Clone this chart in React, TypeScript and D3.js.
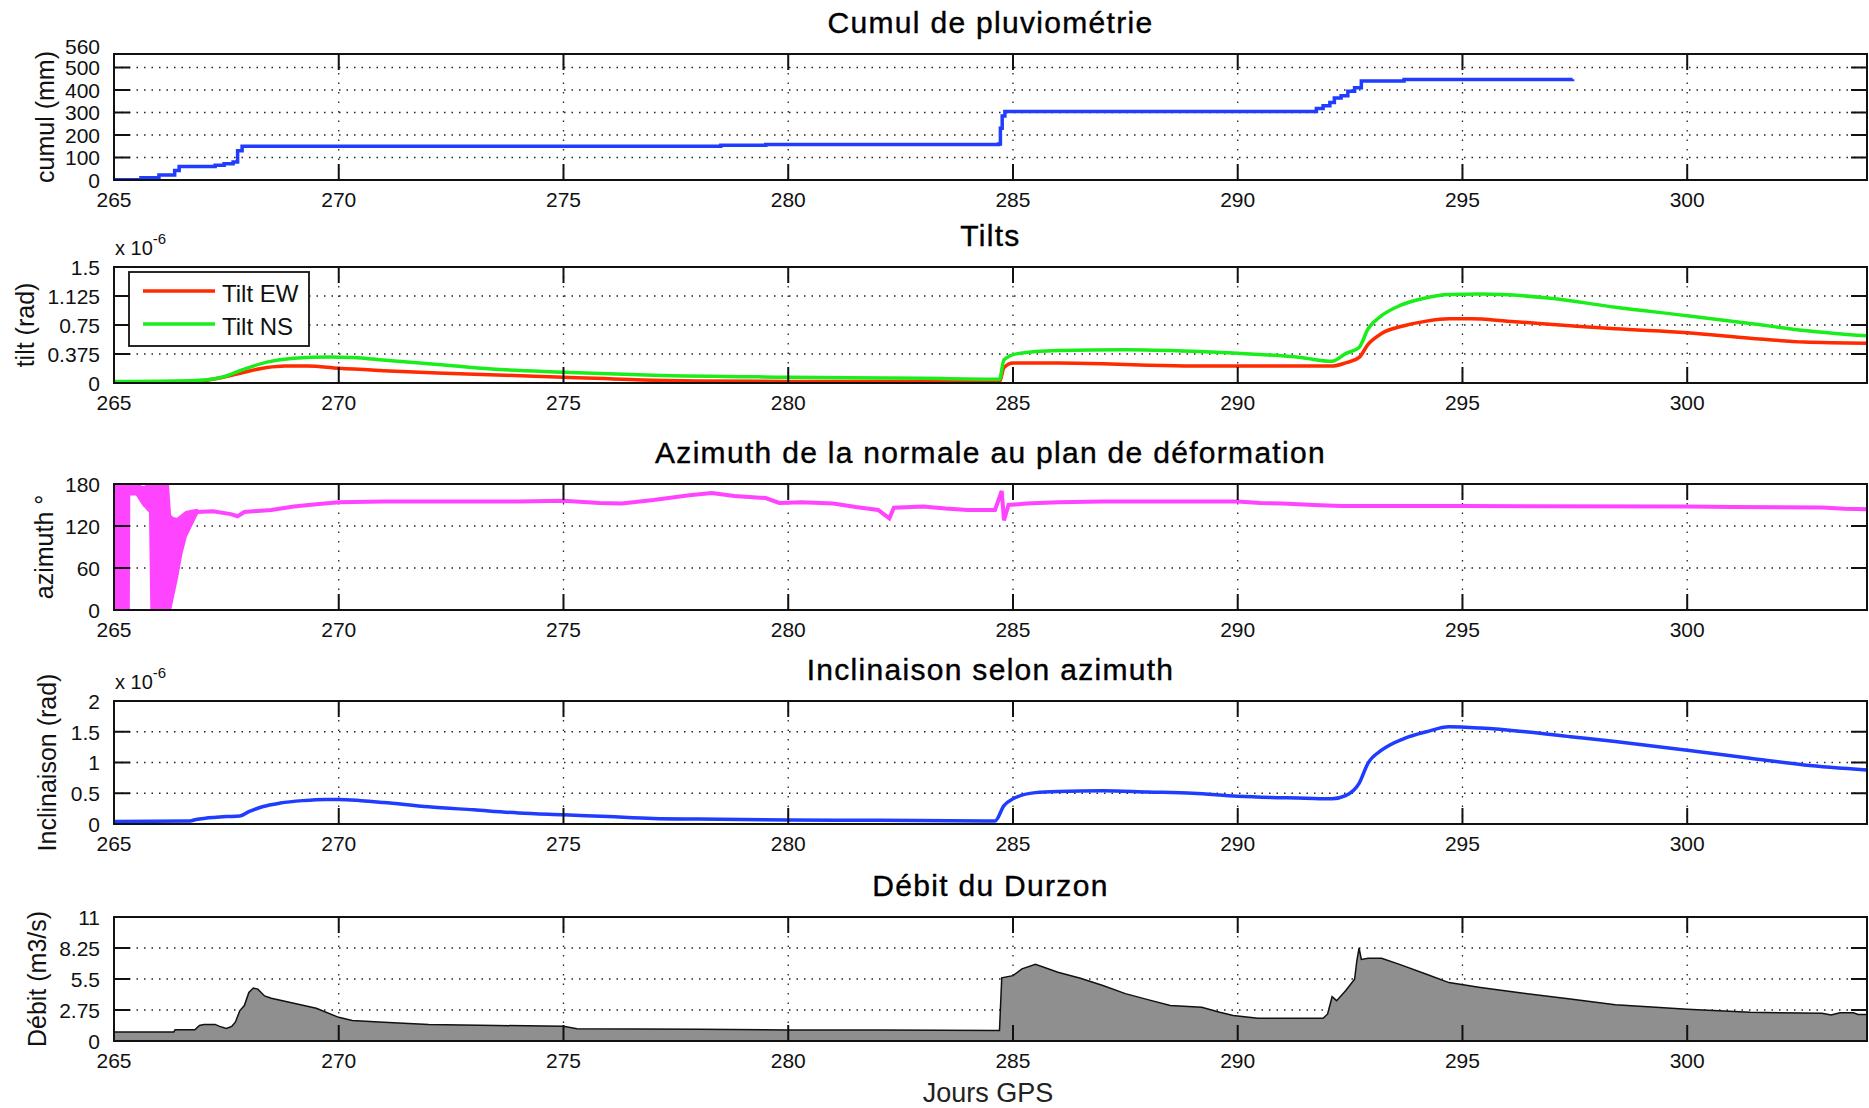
import React, { useEffect, useRef } from 'react';
import * as d3 from 'd3';

type Pt = [number, number];

// jours GPS communs à tous les panneaux
const xTicks = [265, 270, 275, 280, 285, 290, 295, 300];

// cumul de pluviométrie (mm)
const cumul: Pt[] = [
  [265, 1], [265.6, 10], [266.0, 22], [266.35, 42], [266.45, 60], [267.25, 66], [267.45, 72],
  [267.65, 80], [267.75, 130], [267.85, 150], [278.5, 155], [279.5, 158], [284.68, 160],
  [284.72, 230], [284.76, 285], [284.82, 305], [291.6, 305], [291.75, 318], [291.9, 330],
  [292.05, 345], [292.15, 365], [292.3, 375], [292.45, 395], [292.6, 410], [292.75, 440],
  [293.7, 447], [297.45, 448],
];

// tilts (x 1e-6 rad)
const tiltEW: Pt[] = [
  [265, 0.01], [266.5, 0.015], [267.0, 0.03], [267.4, 0.07], [267.9, 0.14], [268.4, 0.2],
  [268.8, 0.22], [269.3, 0.22], [270, 0.19], [271, 0.16], [272.2, 0.13], [273.7, 0.1],
  [275, 0.075], [277, 0.035], [278, 0.025], [280, 0.02], [282, 0.02], [284.7, 0.015],
  [284.8, 0.2], [285, 0.26], [286, 0.26], [287, 0.25], [288, 0.23], [289, 0.22], [291, 0.22],
  [292.1, 0.22], [292.4, 0.26], [292.7, 0.33], [292.9, 0.5], [293.2, 0.64], [293.7, 0.74],
  [294.2, 0.8], [294.7, 0.83], [295.2, 0.83], [296, 0.8], [297.4, 0.74], [298.4, 0.7],
  [300, 0.65], [301.4, 0.58], [302.6, 0.53], [304, 0.515],
];
const tiltNS: Pt[] = [
  [265, 0.02], [266.7, 0.03], [267.4, 0.075], [267.9, 0.18], [268.4, 0.27], [269, 0.32],
  [269.8, 0.335], [270.3, 0.33], [271.1, 0.29], [272.2, 0.24], [273.4, 0.18], [275, 0.14],
  [277, 0.1], [280, 0.075], [283, 0.06], [284.7, 0.05], [284.8, 0.3], [285.1, 0.38],
  [286, 0.42], [287.5, 0.43], [289, 0.41], [290, 0.385], [291.4, 0.33], [292.1, 0.28],
  [292.4, 0.38], [292.7, 0.46], [292.9, 0.7], [293.2, 0.87], [293.6, 1.0], [294.1, 1.09],
  [294.7, 1.145], [295.4, 1.15], [296.9, 1.1], [298.4, 0.98], [300, 0.87], [301.4, 0.77],
  [302.6, 0.68], [304, 0.61],
];

// azimuth : zone bruitée du début (jour, min, max) puis courbe
const azimuthBand: [number, number, number][] = [
  [265.0, 0, 180], [265.33, 0, 180], [265.34, 165, 180], [265.5, 165, 180], [265.65, 150, 175],
  [265.8, 140, 180], [265.83, 0, 180], [266.2, 0, 180], [266.25, 0, 135], [266.3, 15, 132],
  [266.4, 45, 130], [266.5, 80, 135], [266.6, 105, 140], [266.75, 125, 142], [266.85, 138, 143],
];
const azimuth: Pt[] = [
  [266.85, 140], [267.2, 141], [267.6, 137], [267.75, 134], [267.9, 140], [268.5, 143],
  [269, 148], [269.5, 151], [270, 154], [271, 155], [272, 155], [273, 155], [274, 155],
  [275, 156], [275.8, 153], [276.3, 152], [277, 157], [277.8, 164], [278.3, 167], [278.8, 163],
  [279.5, 160], [279.8, 153], [280.3, 154], [281, 152], [281.5, 147], [282, 143], [282.25, 131],
  [282.35, 146], [283, 148], [283.5, 145], [284, 143], [284.6, 143], [284.75, 170], [284.8, 128],
  [284.9, 150], [285.3, 152], [286, 154], [287, 155], [288, 155], [289, 155], [290, 155],
  [290.5, 153], [291, 152], [291.7, 150], [292.3, 148.5], [295, 148.5], [300, 148], [301, 147],
  [303, 146.5], [303.5, 144.5], [304, 144],
];

// inclinaison selon azimuth (x 1e-6 rad)
const inclinaison: Pt[] = [
  [265, 0.04], [266.7, 0.05], [266.8, 0.07], [267, 0.09], [267.5, 0.12], [267.8, 0.13],
  [268, 0.2], [268.3, 0.28], [268.7, 0.34], [269.2, 0.38], [269.7, 0.4], [270, 0.4],
  [270.5, 0.38], [271, 0.35], [272, 0.28], [273, 0.23], [274, 0.18], [275, 0.15], [276, 0.12],
  [277, 0.09], [278, 0.08], [280, 0.065], [282, 0.06], [284.6, 0.05], [284.8, 0.3], [285, 0.41],
  [285.5, 0.51], [286, 0.53], [287, 0.54], [288, 0.52], [289, 0.5], [290, 0.45], [291.5, 0.42],
  [292.1, 0.41], [292.4, 0.46], [292.7, 0.66], [292.9, 0.99], [293.2, 1.2], [293.7, 1.39],
  [294.2, 1.5], [294.7, 1.58], [295.4, 1.56], [296.4, 1.5], [297.4, 1.42], [298.4, 1.34],
  [300, 1.2], [301.4, 1.07], [302.6, 0.96], [304, 0.88],
];

// débit du Durzon (m3/s)
const debit: Pt[] = [
  [265, 0.8], [266.33, 0.8], [266.36, 1.0], [266.8, 1.0], [266.9, 1.38], [267.0, 1.47],
  [267.25, 1.47], [267.35, 1.3], [267.5, 1.12], [267.62, 1.3], [267.7, 1.67], [267.8, 2.7],
  [267.9, 3.14], [268.0, 4.3], [268.1, 4.7], [268.2, 4.6], [268.35, 4.0], [268.5, 3.8],
  [269, 3.34], [269.5, 2.9], [270, 2.1], [270.3, 1.82], [271, 1.67], [272, 1.47], [273.5, 1.38],
  [275, 1.3], [275.3, 1.08], [278, 1.05], [280, 0.98], [282, 0.97], [284.7, 0.94], [284.75, 5.6],
  [285.0, 5.8], [285.2, 6.4], [285.5, 6.8], [286, 6.1], [286.5, 5.56], [287, 4.93], [287.5, 4.2],
  [288, 3.67], [288.5, 3.15], [289.2, 3.0], [289.6, 2.55], [289.9, 2.26], [290.45, 2.02],
  [291.9, 2.02], [292.0, 2.4], [292.1, 3.93], [292.2, 3.58], [292.4, 4.46], [292.6, 5.48],
  [292.65, 7.1], [292.7, 8.26], [292.75, 7.24], [292.9, 7.33], [293.2, 7.33], [293.6, 6.8],
  [294.2, 5.92], [294.7, 5.18], [295.4, 4.75], [296.4, 4.22], [297.4, 3.72], [298.4, 3.22],
  [299.3, 3.0], [300, 2.81], [301.4, 2.55], [303.0, 2.46], [303.2, 2.3], [303.4, 2.5],
  [303.7, 2.5], [303.8, 2.35], [304, 2.35],
];

const cumulTicks = [0, 100, 200, 300, 400, 500, 560];
const tiltTicks = [0, 0.375, 0.75, 1.125, 1.5];
const azimuthTicks = [0, 60, 120, 180];
const inclinaisonTicks = [0, 0.5, 1, 1.5, 2];
const debitTicks = [0, 2.75, 5.5, 8.25, 11];

const FONT = "'Liberation Sans', Arial, Helvetica, sans-serif";

const W = 1869;
const H = 1108;
const left = 114;
const right = 1867;

const App = () => {
  const svgRef = useRef<SVGSVGElement | null>(null);

  useEffect(() => {
    const svg = d3.select(svgRef.current);
    svg.selectAll('*').remove();

    const x = d3.scaleLinear().domain([265, 304]).range([left, right]);

    const panel = (
      id: string,
      top: number,
      bottom: number,
      ymax: number,
      ticks: number[],
      title: string,
      ylabel: string,
      ylabelX: number,
      exponent: boolean,
    ) => {
      const y = d3.scaleLinear().domain([0, ymax]).range([bottom, top]);
      const g = svg.append('g');

      svg.append('clipPath').attr('id', id)
        .append('rect').attr('x', left).attr('y', top).attr('width', right - left).attr('height', bottom - top);

      // grille pointillée
      ticks.filter(t => t > 0 && t < ymax).forEach(t => {
        g.append('line').attr('x1', left).attr('x2', right).attr('y1', y(t)).attr('y2', y(t))
          .attr('stroke', '#222').attr('stroke-width', 1.3).attr('stroke-dasharray', '1.5 6');
      });
      xTicks.filter(t => t > 265).forEach(t => {
        g.append('line').attr('x1', x(t)).attr('x2', x(t)).attr('y1', top).attr('y2', bottom)
          .attr('stroke', '#222').attr('stroke-width', 1.3).attr('stroke-dasharray', '1.5 8');
      });

      const plot = svg.append('g').attr('clip-path', `url(#${id})`);

      const frame = svg.append('g');
      frame.append('rect').attr('x', left).attr('y', top).attr('width', right - left).attr('height', bottom - top)
        .attr('fill', 'none').attr('stroke', '#111').attr('stroke-width', 2);

      xTicks.forEach(t => {
        frame.append('line').attr('x1', x(t)).attr('x2', x(t)).attr('y1', bottom).attr('y2', bottom - 16)
          .attr('stroke', '#111').attr('stroke-width', 2);
        frame.append('line').attr('x1', x(t)).attr('x2', x(t)).attr('y1', top).attr('y2', top + 16)
          .attr('stroke', '#111').attr('stroke-width', 2);
        frame.append('text').attr('x', x(t)).attr('y', bottom + 27).attr('text-anchor', 'middle')
          .attr('font-family', FONT).attr('font-size', 21).attr('fill', '#111').text(String(t));
      });
      ticks.forEach((t, i) => {
        frame.append('line').attr('x1', left).attr('x2', left + 16).attr('y1', y(t)).attr('y2', y(t))
          .attr('stroke', '#111').attr('stroke-width', 2);
        frame.append('line').attr('x1', right - 16).attr('x2', right).attr('y1', y(t)).attr('y2', y(t))
          .attr('stroke', '#111').attr('stroke-width', 2);
        // un libellé trop proche du précédent est remonté pour ne pas le chevaucher
        const gap = i > 0 ? y(ticks[i - 1]) - y(t) : 99;
        const dy = gap < 21 ? 7.8 - (21 - gap) : 7.8;
        frame.append('text').attr('x', 100).attr('y', y(t) + dy).attr('text-anchor', 'end')
          .attr('font-family', FONT).attr('font-size', 21).attr('fill', '#111').text(String(t));
      });

      svg.append('text').attr('x', (left + right) / 2).attr('y', top - 21).attr('text-anchor', 'middle')
        .attr('font-family', FONT).attr('font-size', 30).attr('letter-spacing', 1.3).attr('fill', '#000')
        .attr('stroke', '#000').attr('stroke-width', 0.4)
        .text(title);

      svg.append('text')
        .attr('transform', `translate(${ylabelX},${(top + bottom) / 2}) rotate(-90)`)
        .attr('text-anchor', 'middle').attr('dominant-baseline', 'central')
        .attr('font-family', FONT).attr('font-size', 25).attr('fill', '#111').text(ylabel);

      if (exponent) {
        const e = svg.append('text').attr('x', left + 1).attr('y', top - 12)
          .attr('font-family', FONT).attr('font-size', 20).attr('fill', '#111');
        e.append('tspan').text('x 10');
        e.append('tspan').attr('dy', -11).attr('font-size', 15).text('-6');
      }

      return { y, plot, frame };
    };

    // 1. cumul
    const p1 = panel('c1', 54, 180, 560, cumulTicks, 'Cumul de pluviométrie', 'cumul (mm)', 45, false);
    p1.plot.append('path').datum(cumul)
      .attr('fill', 'none').attr('stroke', '#1f3cff').attr('stroke-width', 3.5)
      .attr('d', d3.line<Pt>().x(d => x(d[0])).y(d => p1.y(d[1])).curve(d3.curveStepAfter));

    // 2. tilts
    const p2 = panel('c2', 267, 383, 1.5, tiltTicks, 'Tilts', 'tilt (rad)', 25, true);
    const tiltLine = d3.line<Pt>().x(d => x(d[0])).y(d => p2.y(d[1])).curve(d3.curveMonotoneX);
    p2.plot.append('path').datum(tiltEW)
      .attr('fill', 'none').attr('stroke', '#ff2a00').attr('stroke-width', 3.5).attr('d', tiltLine);
    p2.plot.append('path').datum(tiltNS)
      .attr('fill', 'none').attr('stroke', '#1aee1a').attr('stroke-width', 3.5).attr('d', tiltLine);

    const legend = svg.append('g');
    legend.append('rect').attr('x', 129).attr('y', 272).attr('width', 180).attr('height', 74)
      .attr('fill', '#fff').attr('stroke', '#111').attr('stroke-width', 1.8);
    [['Tilt EW', '#ff2a00', 291], ['Tilt NS', '#1aee1a', 324]].forEach(([label, color, ly]) => {
      legend.append('line').attr('x1', 143).attr('x2', 215).attr('y1', ly).attr('y2', ly)
        .attr('stroke', color as string).attr('stroke-width', 3.5);
      legend.append('text').attr('x', 222).attr('y', (ly as number) + 10.5)
        .attr('font-family', FONT).attr('font-size', 24).attr('fill', '#111').text(label as string);
    });

    // 3. azimuth
    const p3 = panel('c3', 484, 610, 180, azimuthTicks, 'Azimuth de la normale au plan de déformation', 'azimuth °', 44, false);
    p3.plot.append('path').datum(azimuthBand)
      .attr('fill', '#ff44ff').attr('stroke', '#ff44ff').attr('stroke-width', 2)
      .attr('d', d3.area<[number, number, number]>().x(d => x(d[0])).y0(d => p3.y(d[1])).y1(d => p3.y(d[2])));
    p3.plot.append('path').datum(azimuth)
      .attr('fill', 'none').attr('stroke', '#ff44ff').attr('stroke-width', 4)
      .attr('d', d3.line<Pt>().x(d => x(d[0])).y(d => p3.y(d[1])));

    // 4. inclinaison
    const p4 = panel('c4', 701, 824, 2, inclinaisonTicks, 'Inclinaison selon azimuth', 'Inclinaison (rad)', 47, true);
    p4.plot.append('path').datum(inclinaison)
      .attr('fill', 'none').attr('stroke', '#1f3cff').attr('stroke-width', 3.5)
      .attr('d', d3.line<Pt>().x(d => x(d[0])).y(d => p4.y(d[1])).curve(d3.curveMonotoneX));

    // 5. débit
    const p5 = panel('c5', 917, 1041, 11, debitTicks, 'Débit du Durzon', 'Débit (m3/s)', 37, false);
    p5.plot.append('path').datum(debit)
      .attr('fill', '#8f8f8f').attr('stroke', '#111').attr('stroke-width', 1.5)
      .attr('d', d3.area<Pt>().x(d => x(d[0])).y0(p5.y(0)).y1(d => p5.y(d[1])));
    // remettre le cadre au-dessus de la surface grise
    p5.frame.raise();

    svg.append('text').attr('x', 988).attr('y', 1102).attr('text-anchor', 'middle')
      .attr('font-family', FONT).attr('font-size', 27).attr('fill', '#222').text('Jours GPS');
  }, []);

  return (
    <svg ref={svgRef} width={W} height={H}
      style={{ position: 'absolute', left: 0, top: 0, background: '#fff' }} />
  );
};

export default App;
